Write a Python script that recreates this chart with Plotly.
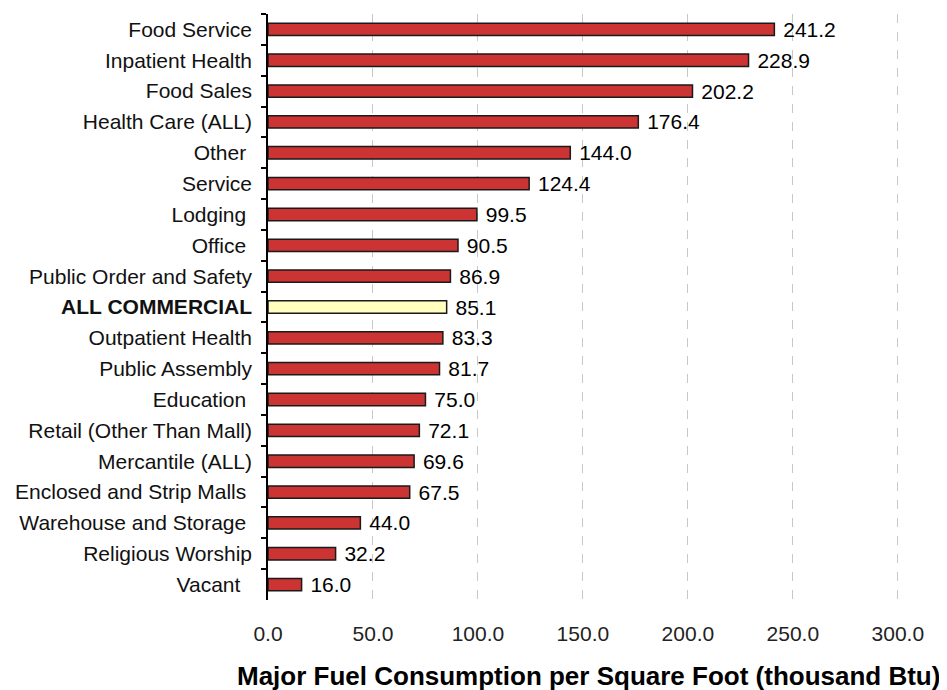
import plotly.graph_objects as go

categories = ["Food Service", "Inpatient Health", "Food Sales", "Health Care (ALL)", "Other\u00a0",
              "Service", "Lodging\u00a0", "Office\u00a0", "Public Order and Safety", "<b>ALL COMMERCIAL</b>",
              "Outpatient Health", "Public Assembly", "Education\u00a0", "Retail (Other Than Mall)",
              "Mercantile (ALL)", "Enclosed and Strip Malls\u00a0", "Warehouse and Storage\u00a0",
              "Religious Worship", "Vacant\u00a0\u00a0"]
values = [241.2, 228.9, 202.2, 176.4, 144.0, 124.4, 99.5, 90.5, 86.9, 85.1,
          83.3, 81.7, 75.0, 72.1, 69.6, 67.5, 44.0, 32.2, 16.0]
tick_vals = [0, 50, 100, 150, 200, 250, 300]
tick_text = ["0.0", "50.0", "100.0", "150.0", "200.0", "250.0", "300.0"]
x_title = "<b>Major Fuel Consumption per Square Foot (thousand Btu)</b>"
highlight = "<b>ALL COMMERCIAL</b>"
colors = ["#FFFFC0" if c == highlight else "#CC3333" for c in categories]

FONT = "Liberation Sans, Arial"

fig = go.Figure(go.Bar(
    y=categories, x=values, orientation="h",
    marker=dict(color=colors, line=dict(color="#1a1a1a", width=1.5)),
    width=0.4,
    text=[f"\u00a0{v:.1f}" for v in values], textposition="outside",
    constraintext="none",
    textfont=dict(family=FONT, size=21, color="#000"),
    cliponaxis=False,
))

fig.update_layout(
    width=939, height=682,
    margin=dict(l=260, r=45, t=6, b=90),
    plot_bgcolor="white", paper_bgcolor="white",
    showlegend=False,
    font=dict(family=FONT, size=21, color="#000"),
    xaxis=dict(range=[0, 302], tickvals=tick_vals, ticktext=tick_text,
               showgrid=True, gridcolor="#c8c8c8", griddash="dash", gridwidth=1,
               zeroline=False, showline=False, ticks="", ticklabelstandoff=19,
               automargin=False, tickfont=dict(size=21, color="#222")),
    yaxis=dict(autorange="reversed", type="category", tickson="boundaries",
               ticks="outside", ticklen=5, tickcolor="#000", tickwidth=1.5,
               showline=True, linecolor="#000", linewidth=1.5, showgrid=False,
               ticklabelstandoff=10, automargin=False, tickfont=dict(size=21, color="#111")),
    annotations=[dict(text=x_title, xref="paper", yref="paper",
                      x=(588 - 268) / 634, y=0, xanchor="center", yanchor="middle",
                      yshift=-76, showarrow=False,
                      font=dict(family=FONT, size=26, color="#000"))],
)

fig.write_html("out.html")
